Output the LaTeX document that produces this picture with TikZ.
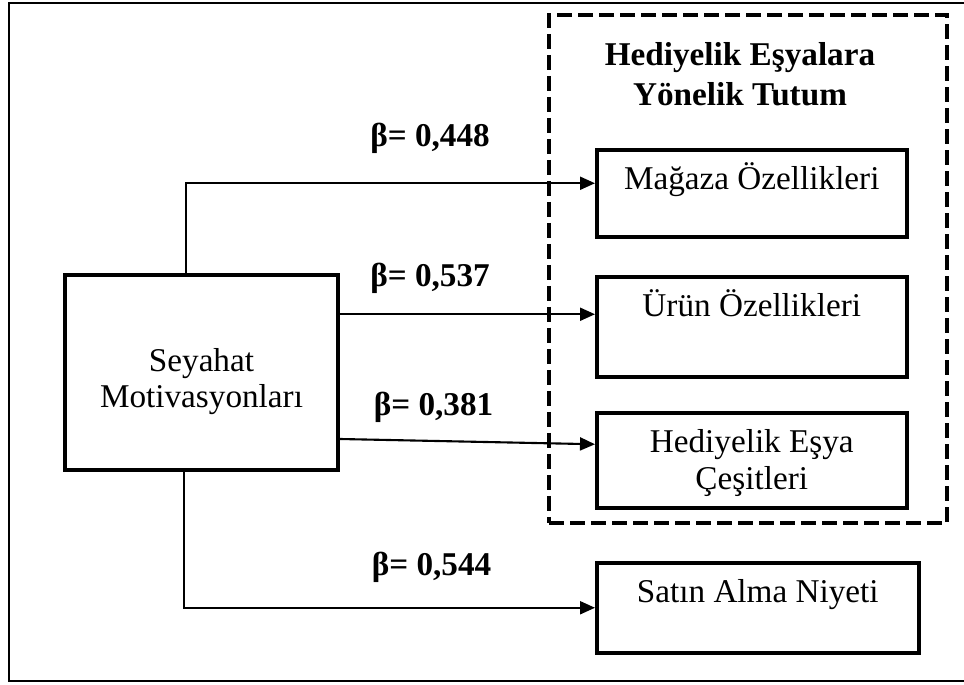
\documentclass[tikz,border=0pt]{standalone}
\usepackage{fontspec}
\setmainfont{Liberation Serif}
\usetikzlibrary{arrows.meta,positioning}
\newcommand{\bodysize}{\fontsize{18.9}{21}\selectfont}
\newcommand{\titlesize}{\fontsize{18.9}{23.3}\selectfont}
\tikzset{
  >={Triangle[length=3mm,width=2.6mm]},
  outerframe/.style={draw,line width=1.1pt},
  groupbox/.style={draw,line width=2.3pt,dash pattern=on 3mm off 1.2mm},
  mainbox/.style={draw,line width=2.2pt,minimum width=5.46cm,minimum height=3.9cm,
    align=center,font=\bodysize,inner sep=0pt},
  item/.style={draw,line width=2pt,minimum width=6.2cm,inner sep=0pt,
    font=\bodysize,align=center,text height=0.8cm,text depth=#1,anchor=north west},
  item/.default=0.94cm,
  coef/.style={font=\bodysize\bfseries,anchor=base},
  link/.style={->,line width=1.2pt},
}
\begin{document}
\begin{tikzpicture}
  \useasboundingbox (0,0) rectangle (19.28,13.68);
  \draw[outerframe] (19.28,13.62) -| (0.18,0.06) -- (19.28,0.06);
  % tutum grubu
  \node[groupbox,minimum width=7.96cm,minimum height=10.16cm] (attitude) at (14.96,8.30) {};
  \node[font=\titlesize\bfseries,align=center,anchor=base] (attitudetitle) at (14.8,11.56)
    {Hediyelik Eşyalara\\Yönelik Tutum};
  \node[item] (store) at (11.9,10.72) {Mağaza Özellikleri};
  \node[item=1.2cm] (product) at (11.9,8.18) {Ürün Özellikleri};
  \node[item=0.14cm,text height=1.32cm,minimum height=1.9cm] (variety) at (11.9,5.46)
    {Hediyelik Eşya\\Çeşitleri};
  \node[item=1cm,minimum width=6.44cm] (intent) at (11.9,2.46) {Satın Alma Niyeti};
  \node[mainbox,text height=1.56cm,text depth=0.14cm] (motiv) at (4.03,6.23)
    {Seyahat\\Motivasyonları};
  % katsayilar
  \node[coef] (b1) at (8.6,10.74) {β= 0,448};
  \node[coef] (b2) at (8.6,7.94) {β= 0,537};
  \node[coef] (b3) at (8.67,5.36) {β= 0,381};
  \node[coef] (b4) at (8.63,2.16) {β= 0,544};
  \draw[link] ([xshift=-0.31cm]motiv.north) |- ([yshift=0.2cm]store.west);
  \draw[link] ([yshift=0.25cm]product.west -| motiv.east) -- ([yshift=0.25cm]product.west);
  \draw[link] ([yshift=-1.33cm]motiv.east) -- ([yshift=0.32cm]variety.west);
  \draw[link] ([xshift=-0.35cm]motiv.south) |- (intent.west);
\end{tikzpicture}
\end{document}
